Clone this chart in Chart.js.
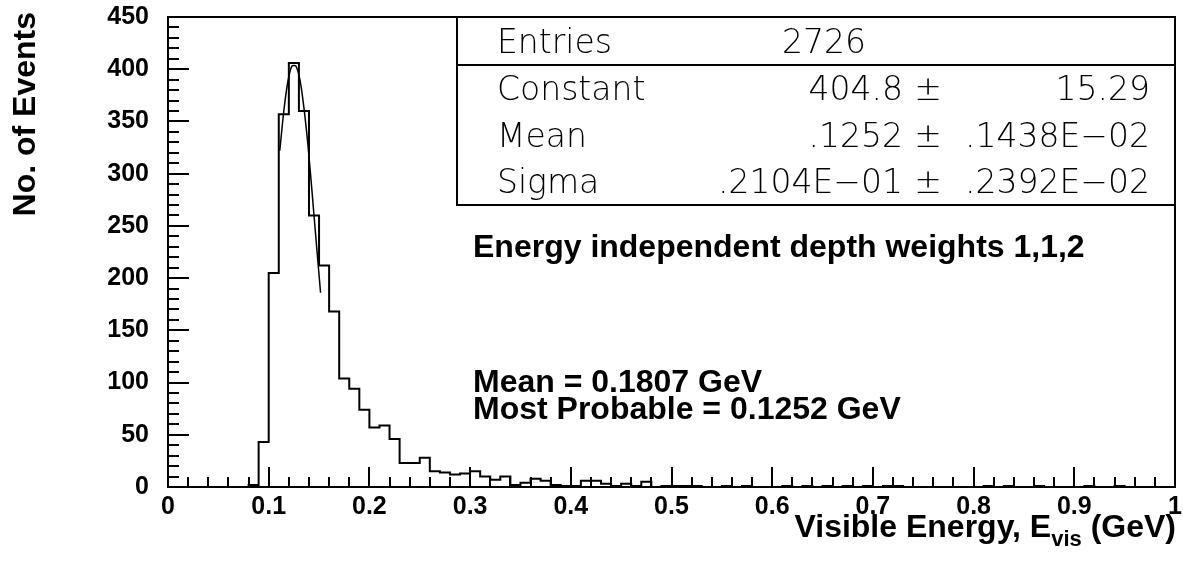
<!DOCTYPE html>
<html>
<head>
<meta charset="utf-8">
<script src="https://cdn.jsdelivr.net/npm/chart.js@4/dist/chart.umd.min.js"></script>
<style>
  html, body { margin: 0; padding: 0; background: #fff; }
  canvas { display: block; }
</style>
</head>
<body>
<canvas id="histChart" width="1183" height="571"></canvas>
<script>
// ==============================
// HISTOGRAM DATA
// ==============================

// bins of 0.01 GeV from 0 to 1
const binStart = 0.0;
const binWidth = 0.01;
const binCounts = [
    0, 0, 0, 0, 0, 0, 0, 0, 2, 43,          // 0.00 - 0.09
    205, 357, 406, 360, 260, 212, 168, 104, 94, 74,   // 0.10 - 0.19
    57, 59, 46, 23, 23, 28, 15, 14, 12, 13,  // 0.20 - 0.29
    15, 10, 7, 10, 2, 4, 8, 6, 2, 1,         // 0.30 - 0.39
    1, 6, 6, 3, 1, 3, 1, 5, 0, 1,            // 0.40 - 0.49
    1, 1, 1, 0, 0, 1, 0, 1, 0, 0,            // 0.50 - 0.59
    0, 1, 0, 1, 0, 1, 0, 1, 0, 1,            // 0.60 - 0.69
    0, 1, 1, 0, 0, 0, 0, 0, 0, 0,            // 0.70 - 0.79
    0, 1, 0, 1, 0, 0, 1, 0, 0, 0,            // 0.80 - 0.89
    0, 1, 0, 0, 1, 0, 0, 0, 0, 0             // 0.90 - 0.99
];

// gaussian fit curve
const fitX = [0.111, 0.115, 0.119, 0.123, 0.127, 0.131, 0.135, 0.139, 0.143, 0.147, 0.1515];
const fitY = [322, 360, 388, 403, 403, 390, 363, 327, 283, 237, 186];

// axis ticks
const xMajorLabels = ['0', '0.1', '0.2', '0.3', '0.4', '0.5', '0.6', '0.7', '0.8', '0.9', '1'];
const yMajorLabels = ['0', '50', '100', '150', '200', '250', '300', '350', '400', '450'];

// stats box
const statNames = ['Constant', 'Mean', 'Sigma'];
const statValues = ['404.8', '.1252', '.2104E\u221201'];
const statErrors = ['15.29', '.1438E\u221202', '.2392E\u221202'];
const entries = '2726';

const FONT = 'Liberation Sans, Arial, Helvetica, sans-serif';

document.addEventListener('DOMContentLoaded', function() {
    createHistogram();
});

function buildHistPoints() {
    const pts = binCounts.map((c, i) => ({ x: binStart + i * binWidth, y: c }));
    pts.push({ x: binStart + binCounts.length * binWidth, y: 0 });
    return pts;
}

// no extra room for the end labels, the frame is placed by the layout padding
function noScalePadding(scale) {
    scale.paddingLeft = 0;
    scale.paddingRight = 0;
    scale.paddingTop = 0;
    scale.paddingBottom = 0;
}

// draws the inward ticks, frame, stats box and texts
const decorPlugin = {
    id: 'decor',
    afterDraw(chart) {
        const ctx = chart.ctx;
        const area = chart.chartArea;
        const xs = chart.scales.x;
        const ys = chart.scales.y;

        ctx.save();
        ctx.strokeStyle = '#000';
        ctx.lineWidth = 2;

        // inward ticks
        ctx.beginPath();
        xs.ticks.forEach(t => {
            const px = Math.round(xs.getPixelForValue(t.value));
            const len = t.label ? 20 : 10;
            ctx.moveTo(px, area.bottom);
            ctx.lineTo(px, area.bottom - len);
        });
        ys.ticks.forEach(t => {
            const py = Math.round(ys.getPixelForValue(t.value));
            const len = t.label ? 21 : 11;
            ctx.moveTo(area.left, py);
            ctx.lineTo(area.left + len, py);
        });
        ctx.stroke();

        // frame
        ctx.strokeRect(area.left, area.top, area.right - area.left, area.bottom - area.top);

        // stats box
        const bx = 457, by = area.top, bw = area.right - 457, bh = 205 - area.top;
        ctx.fillStyle = '#fff';
        ctx.fillRect(bx, by, bw, bh);
        ctx.strokeRect(bx, by, bw, bh);
        ctx.beginPath();
        ctx.moveTo(bx, 65);
        ctx.lineTo(bx + bw, 65);
        ctx.stroke();

        ctx.fillStyle = '#000';
        ctx.font = '200 33px "DejaVu Sans"';
        ctx.textBaseline = 'alphabetic';
        ctx.textAlign = 'left';
        ctx.fillText('Entries', 497, 53);
        ctx.textAlign = 'right';
        ctx.fillText(entries, 866, 53);
        const rowY = [100, 147, 193];
        statNames.forEach((name, i) => {
            ctx.textAlign = 'left';
            ctx.fillText(name, 497, rowY[i]);
            ctx.textAlign = 'right';
            ctx.fillText(statValues[i], 903, rowY[i]);
            ctx.textAlign = 'center';
            ctx.fillText('\u00b1', 928, rowY[i]);
            ctx.textAlign = 'right';
            ctx.fillText(statErrors[i], 1150, rowY[i]);
        });

        // annotations
        ctx.textAlign = 'left';
        ctx.font = 'bold 32px ' + FONT;
        ctx.fillText('Energy independent depth weights 1,1,2', 473, 257);
        ctx.fillText('Mean = 0.1807 GeV', 473, 392);
        ctx.fillText('Most Probable = 0.1252 GeV', 473, 419);

        // x title with subscript, right aligned to the frame
        const big = 'bold 32px ' + FONT;
        const small = 'bold 22px ' + FONT;
        ctx.font = big;
        const w1 = ctx.measureText('Visible Energy, E').width;
        const w3 = ctx.measureText(' (GeV)').width;
        ctx.font = small;
        const w2 = ctx.measureText('vis').width;
        const tx = area.right + 1 - (w1 + w2 + w3);
        const ty = 537;
        ctx.font = big;
        ctx.fillText('Visible Energy, E', tx, ty);
        ctx.font = small;
        ctx.fillText('vis', tx + w1, ty + 9);
        ctx.font = big;
        ctx.fillText(' (GeV)', tx + w1 + w2, ty);

        // y title
        ctx.translate(35, 12);
        ctx.rotate(-Math.PI / 2);
        ctx.textAlign = 'right';
        ctx.font = 'bold 32px ' + FONT;
        ctx.fillText('No. of Events', 0, 0);

        ctx.restore();
    }
};

function createHistogram() {
    const ctx = document.getElementById('histChart');
    if (!ctx) return;

    new Chart(ctx, {
        type: 'scatter',
        data: {
            datasets: [{
                label: 'hist',
                data: buildHistPoints(),
                showLine: true,
                stepped: true,
                borderColor: '#000',
                borderWidth: 2,
                pointRadius: 0,
                fill: false
            }, {
                label: 'fit',
                data: fitX.map((x, i) => ({ x: x, y: fitY[i] })),
                showLine: true,
                borderColor: '#000',
                borderWidth: 1.5,
                pointRadius: 0,
                tension: 0.3,
                fill: false
            }]
        },
        options: {
            responsive: false,
            animation: false,
            devicePixelRatio: 1,
            layout: {
                padding: { left: 0, right: 8, top: 17, bottom: 0 }
            },
            plugins: {
                legend: { display: false },
                tooltip: { enabled: false }
            },
            scales: {
                x: {
                    type: 'linear',
                    min: 0,
                    max: 1,
                    afterFit: scale => { scale.height = 84; noScalePadding(scale); },
                    afterBuildTicks: scale => {
                        scale.ticks = [];
                        for (let i = 0; i <= 50; i++) scale.ticks.push({ value: i * 0.02 });
                    },
                    grid: { display: false, drawTicks: false },
                    border: { display: false },
                    ticks: {
                        autoSkip: false,
                        maxRotation: 0,
                        padding: 5,
                        color: '#000',
                        font: { family: FONT, size: 25, weight: 'bold' },
                        callback: function(value, index) {
                            return index % 5 === 0 ? xMajorLabels[index / 5] : '';
                        }
                    }
                },
                y: {
                    type: 'linear',
                    min: 0,
                    max: 450,
                    afterFit: scale => { scale.width = 168; noScalePadding(scale); },
                    afterBuildTicks: scale => {
                        scale.ticks = [];
                        for (let i = 0; i <= 45; i++) scale.ticks.push({ value: i * 10 });
                    },
                    grid: { display: false, drawTicks: false },
                    border: { display: false },
                    ticks: {
                        autoSkip: false,
                        padding: 19,
                        color: '#000',
                        font: { family: FONT, size: 25, weight: 'bold' },
                        callback: function(value, index) {
                            return index % 5 === 0 ? yMajorLabels[index / 5] : '';
                        }
                    }
                }
            }
        },
        plugins: [decorPlugin]
    });
}
</script>
</body>
</html>
